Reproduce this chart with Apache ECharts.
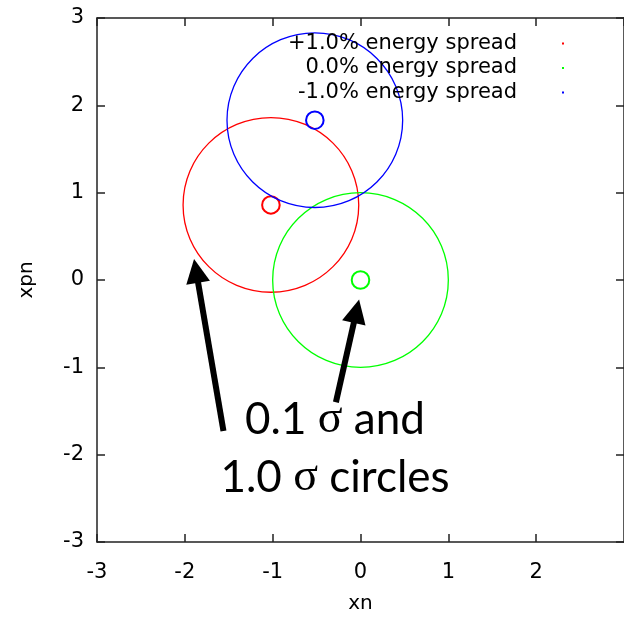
<!DOCTYPE html>
<html>
<head>
<meta charset="utf-8">
<script src="https://cdn.jsdelivr.net/npm/echarts@6/dist/echarts.min.js"></script>
<style>
  html, body { margin: 0; padding: 0; background: #fff; }
  #main { width: 624px; height: 619px; }
</style>
</head>
<body>
<div id="main"></div>
<script>
// energy spread cases (legend names)
var spreads = ['+1.0% energy spread', '0.0% energy spread', '-1.0% energy spread'];
var colors = ['#ff0000', '#00ff00', '#0000ff'];
// circle centres in normalised phase space (xn, xpn)
var centerX = [-1.02, 0.0, -0.52];
var centerY = [0.86, 0.0, 1.83];
// 0.1 sigma and 1.0 sigma circles
var radii = [0.1, 1.0];

// annotation arrows, tail -> head, in data units
var arrowLeft = [[-1.56, -1.73], [-1.872, 0.105]];
var arrowRight = [[-0.28, -1.40], [-0.046, -0.357]];

var myChart = echarts.init(document.getElementById('main'));

var font = 'DejaVu Sans';

function circleSeries(i) {
    var rows = [];
    for (var k = 0; k < radii.length; k++) {
        rows.push([centerX[i], centerY[i], radii[k]]);
    }
    return {
        name: spreads[i],
        type: 'custom',
        itemStyle: {color: colors[i]},
        data: rows,
        renderItem: function (params, api) {
            var c = api.coord([api.value(0), api.value(1)]);
            var s = api.size([api.value(2), api.value(2)]);
            return {
                type: 'ellipse',
                shape: {cx: c[0], cy: c[1], rx: s[0], ry: s[1]},
                style: {
                    fill: 'none',
                    stroke: api.visual('color'),
                    lineWidth: api.value(2) < 0.5 ? 2 : 1.3
                }
            };
        }
    };
}

function arrowSeries(coords) {
    return {
        type: 'lines',
        coordinateSystem: 'cartesian2d',
        symbol: ['none', 'triangle'],
        symbolSize: 24,
        lineStyle: {color: '#000', width: 6, opacity: 1},
        data: [{coords: coords}]
    };
}

var axisLine = {show: true, onZero: false, lineStyle: {color: '#222', width: 1.5}};
var tick = {show: true, inside: true, length: 8, lineStyle: {color: '#222', width: 1.5}};

option = {
    animation: false,
    backgroundColor: '#ffffff',
    grid: {left: 97, top: 18, width: 533, height: 528},
    legend: {
        data: spreads,
        orient: 'vertical',
        align: 'right',
        right: 55,
        top: 28,
        itemGap: 3.5,
        itemWidth: 2,
        itemHeight: 2,
        icon: 'rect',
        selectedMode: false,
        textStyle: {
            color: '#000',
            fontFamily: font,
            fontSize: 21,
            padding: [0, 40, 0, 0]
        }
    },
    xAxis: [
        {
            type: 'value', min: -3, max: 3, interval: 1,
            name: 'xn', nameLocation: 'middle', nameGap: 52,
            nameTextStyle: {color: '#000', fontFamily: font, fontSize: 20},
            axisLine: axisLine, axisTick: tick,
            splitLine: {show: false},
            axisLabel: {color: '#000', fontFamily: font, fontSize: 21, margin: 20, showMaxLabel: false}
        },
        {
            type: 'value', min: -3, max: 3, interval: 1, position: 'top',
            axisLine: axisLine, axisTick: tick,
            splitLine: {show: false}, axisLabel: {show: false}
        }
    ],
    yAxis: [
        {
            type: 'value', min: -3, max: 3, interval: 1,
            name: 'xpn', nameLocation: 'middle', nameGap: 60, nameRotate: 90,
            nameTextStyle: {color: '#000', fontFamily: font, fontSize: 20},
            axisLine: axisLine, axisTick: tick,
            splitLine: {show: false},
            axisLabel: {color: '#000', fontFamily: font, fontSize: 21, margin: 13}
        },
        {
            type: 'value', min: -3, max: 3, interval: 1, position: 'right',
            axisLine: axisLine, axisTick: tick,
            splitLine: {show: false}, axisLabel: {show: false}
        }
    ],
    graphic: [{
        type: 'text',
        x: 335, y: 449,
        style: {
            text: '{a|0.1 }{s|σ}{a| and}\n{a|1.0 }{s|σ}{a| circles}',
            align: 'center',
            verticalAlign: 'middle',
            lineHeight: 58,
            fill: '#000',
            rich: {
                a: {fontFamily: 'Lato', fontSize: 44, lineHeight: 58, fill: '#000'},
                s: {fontFamily: 'Liberation Serif', fontSize: 46, lineHeight: 58, fill: '#000'}
            }
        }
    }],
    series: [
        circleSeries(0),
        circleSeries(1),
        circleSeries(2),
        arrowSeries(arrowLeft),
        arrowSeries(arrowRight)
    ]
};

myChart.setOption(option);
</script>
</body>
</html>
